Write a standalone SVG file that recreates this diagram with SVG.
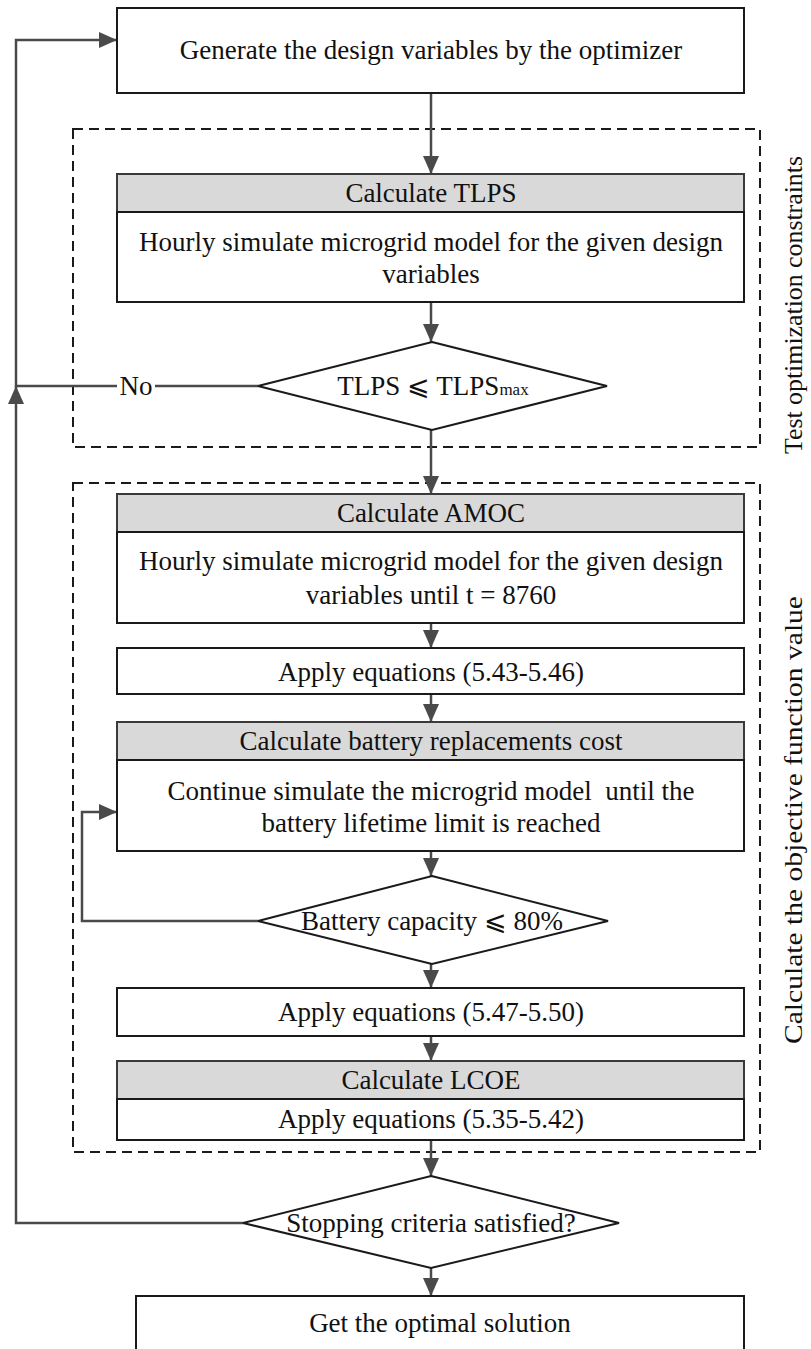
<svg xmlns="http://www.w3.org/2000/svg" width="811" height="1349" viewBox="0 0 811 1349">
  <style>
    .box { fill: #ffffff; stroke: #1a1a1a; stroke-width: 2; }
    .head { fill: #d9d9d9; stroke: #3a3a3a; stroke-width: 2; }
    .dec { fill: #ffffff; stroke: #1a1a1a; stroke-width: 2; }
    .frame { fill: none; stroke: #1a1a1a; stroke-width: 2; stroke-dasharray: 10 6; }
    .wire { fill: none; stroke: #4a4a4a; stroke-width: 2.5; }
    .arrow { marker-end: url(#tip); }
    text { font-family: "Liberation Serif", "Times New Roman", serif; fill: #111111; }
    .t { font-size: 27px; text-anchor: middle; }
    .side { font-size: 26px; text-anchor: middle; }
  </style>
  <defs>
    <marker id="tip" markerUnits="userSpaceOnUse" markerWidth="18" markerHeight="16" refX="18" refY="8" orient="auto">
      <path d="M0,0 L18,8 L0,16 z" fill="#4a4a4a"/>
    </marker>
  </defs>

  <rect width="811" height="1349" fill="#ffffff"/>

  <!-- grouping frames -->
  <g id="frames">
    <rect class="frame" x="73" y="129" width="687" height="318"/>
    <rect class="frame" x="73" y="483" width="687" height="669"/>
    <text class="side" transform="translate(802 305) rotate(-90)" textLength="298" lengthAdjust="spacingAndGlyphs">Test optimization constraints</text>
    <text class="side" transform="translate(802 820) rotate(-90)" textLength="448" lengthAdjust="spacingAndGlyphs">Calculate the objective function value</text>
  </g>

  <!-- connectors -->
  <g id="connectors">
    <line class="wire arrow" x1="431" y1="93" x2="431" y2="174"/>
    <line class="wire arrow" x1="431" y1="302" x2="431" y2="342"/>
    <line class="wire arrow" x1="431" y1="430" x2="431" y2="494"/>
    <line class="wire arrow" x1="431" y1="623" x2="431" y2="648"/>
    <line class="wire arrow" x1="431" y1="694" x2="431" y2="722"/>
    <line class="wire arrow" x1="431" y1="851" x2="431" y2="876"/>
    <line class="wire arrow" x1="431" y1="964" x2="431" y2="988"/>
    <line class="wire arrow" x1="431" y1="1036" x2="431" y2="1061"/>
    <line class="wire arrow" x1="431" y1="1140" x2="431" y2="1176"/>
    <line class="wire arrow" x1="431" y1="1268" x2="431" y2="1296"/>
    <!-- "No" branch back to the optimizer -->
    <path class="wire" d="M258,386 H155"/>
    <path class="wire arrow" d="M117,386 H16 V40 H117"/>
    <text x="136" y="395" style="font-size:27px;text-anchor:middle">No</text>
    <!-- outer loop from the stopping test -->
    <path class="wire arrow" d="M243,1223 H16 V386"/>
    <!-- battery replacement loop -->
    <path class="wire arrow" d="M258,921 H82 V812 H117"/>
  </g>

  <g id="generate">
    <rect class="box" x="117" y="8" width="627" height="85"/>
    <text class="t" x="431" y="59">Generate the design variables by the optimizer</text>
  </g>

  <g id="calc-tlps">
    <rect class="head" x="117" y="174" width="627" height="38"/>
    <text class="t" x="431" y="202">Calculate TLPS</text>
    <rect class="box" x="117" y="212" width="627" height="90"/>
    <text class="t" x="431" y="251">Hourly simulate microgrid model for the given design</text>
    <text class="t" x="431" y="283">variables</text>
  </g>

  <g id="check-tlps">
    <polygon class="dec" points="432,342 607,386 432,430 258,386"/>
    <text class="t" x="433" y="395">TLPS ⩽ TLPS<tspan style="font-size:17px">max</tspan></text>
  </g>

  <g id="calc-amoc">
    <rect class="head" x="117" y="494" width="627" height="38"/>
    <text class="t" x="431" y="522">Calculate AMOC</text>
    <rect class="box" x="117" y="532" width="627" height="91"/>
    <text class="t" x="431" y="570">Hourly simulate microgrid model for the given design</text>
    <text class="t" x="431" y="604">variables until t = 8760</text>
  </g>

  <g id="apply-543">
    <rect class="box" x="117" y="648" width="627" height="46"/>
    <text class="t" x="431" y="681">Apply equations (5.43-5.46)</text>
  </g>

  <g id="calc-battery">
    <rect class="head" x="117" y="722" width="627" height="38"/>
    <text class="t" x="431" y="750">Calculate battery replacements cost</text>
    <rect class="box" x="117" y="760" width="627" height="91"/>
    <text class="t" x="431" y="800" xml:space="preserve">Continue simulate the microgrid model  until the</text>
    <text class="t" x="431" y="832">battery lifetime limit is reached</text>
  </g>

  <g id="check-capacity">
    <polygon class="dec" points="432,876 608,921 432,964 258,921"/>
    <text class="t" x="432" y="930">Battery capacity ⩽ 80%</text>
  </g>

  <g id="apply-547">
    <rect class="box" x="117" y="988" width="627" height="48"/>
    <text class="t" x="431" y="1021">Apply equations (5.47-5.50)</text>
  </g>

  <g id="calc-lcoe">
    <rect class="head" x="117" y="1061" width="627" height="38"/>
    <text class="t" x="431" y="1089">Calculate LCOE</text>
    <rect class="box" x="117" y="1099" width="627" height="41"/>
    <text class="t" x="431" y="1128">Apply equations (5.35-5.42)</text>
  </g>

  <g id="check-stop">
    <polygon class="dec" points="431,1176 619,1223 431,1268 243,1223"/>
    <text class="t" x="431" y="1232">Stopping criteria satisfied?</text>
  </g>

  <g id="optimal">
    <rect class="box" x="136" y="1296" width="608" height="70"/>
    <text class="t" x="440" y="1332">Get the optimal solution</text>
  </g>
</svg>
